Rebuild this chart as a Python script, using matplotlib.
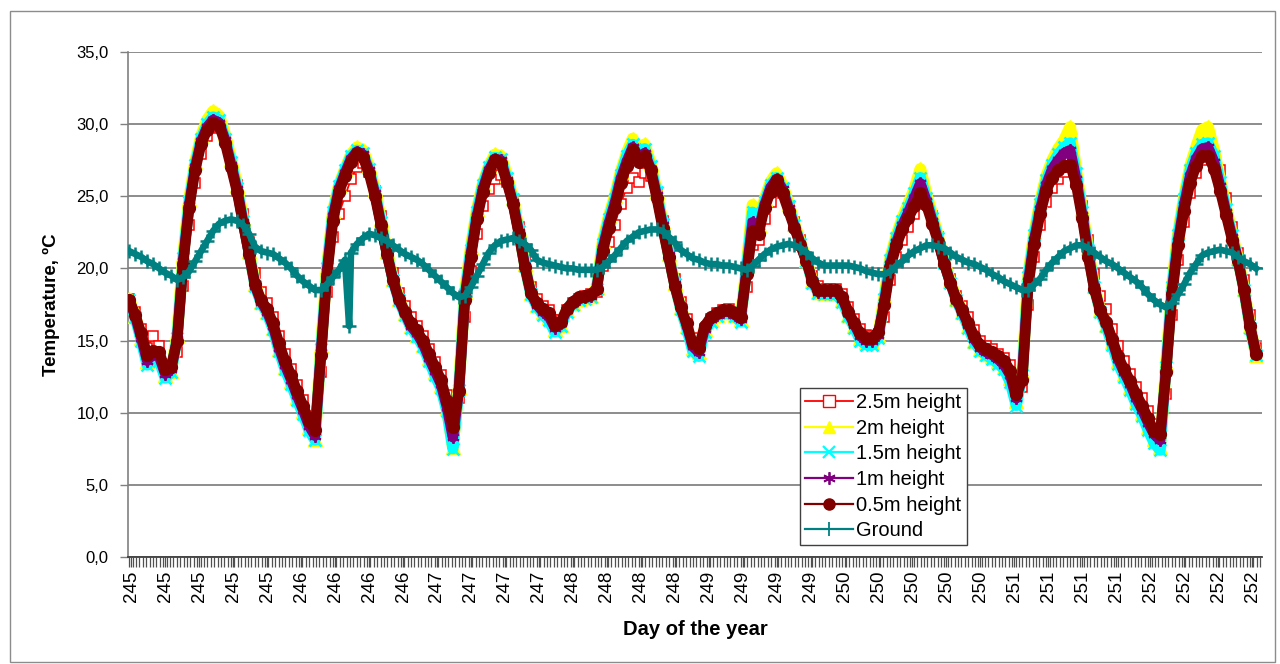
import numpy as np
import matplotlib
matplotlib.use("Agg")
import matplotlib.pyplot as plt
from matplotlib.lines import Line2D
from matplotlib.patches import Rectangle

plt.rcParams['font.family'] = ['Liberation Sans', 'DejaVu Sans']

# ---- data (hourly readings, starting at day 245 00:00) ----
t_05m = [17.8, 16.8, 15.5, 14.0, 14.3, 14.2, 13.0, 13.2, 15.0, 20.3, 24.2, 26.8, 28.6, 29.6, 30.1, 29.9, 28.7, 27.0, 25.3, 23.1, 21.0, 18.9, 17.8, 17.2,
         16.2, 14.8, 13.6, 12.6, 11.5, 10.5, 9.4, 8.8, 14.0, 19.5, 23.3, 25.3, 26.4, 27.4, 28.0, 27.7, 26.6, 25.0, 23.0, 21.0, 19.2, 17.9, 17.0, 16.2,
         15.7, 15.0, 14.1, 13.2, 12.3, 10.8, 9.0, 11.5, 17.8, 20.8, 23.4, 25.3, 26.6, 27.5, 27.3, 26.0, 24.5, 22.4, 20.1, 18.3, 17.6, 17.2, 16.9, 16.1,
         16.3, 17.2, 17.7, 18.0, 18.1, 18.2, 18.6, 21.2, 22.8, 24.2, 25.9, 27.1, 28.2, 27.4, 27.8, 26.8, 24.9, 22.8, 20.8, 18.8, 17.3, 16.2, 14.8, 14.5,
         16.0, 16.6, 16.9, 17.1, 17.1, 16.9, 16.6, 19.6, 22.6, 22.4, 24.2, 25.3, 26.1, 25.2, 24.0, 22.8, 21.6, 20.5, 19.1, 18.5, 18.5, 18.5, 18.5, 18.0,
         17.0, 16.2, 15.5, 15.2, 15.2, 15.6, 17.5, 20.1, 21.6, 22.7, 23.5, 24.3, 25.2, 24.4, 23.1, 21.8, 20.3, 19.0, 17.9, 17.1, 16.2, 15.3, 14.7, 14.4,
         14.2, 13.9, 13.6, 12.9,
         11.3, 12.3, 18.8, 21.7, 23.8, 25.4, 26.3, 26.8, 27.1, 27.2, 25.8, 23.5, 20.8, 18.6, 17.1, 16.3, 15.1, 13.9, 13.0, 12.2,
         11.3, 10.5, 9.6, 8.7, 8.5, 12.8, 18.2, 21.6, 24.0, 25.9, 27.1, 27.8, 27.8, 26.9, 25.4, 23.7, 22.0, 20.5, 18.5, 16.0, 14.1]

t_1m = [17.8, 16.7, 15.2, 13.6, 14.1, 13.9, 12.7, 13.0, 15.1, 20.5, 24.4, 27.0, 28.8, 29.8, 30.3, 30.1, 28.9, 27.2, 25.5, 23.2, 21.0, 18.8, 17.7, 17.0,
        16.0, 14.5, 13.3, 12.3, 11.2, 10.2, 9.1, 8.4, 14.2, 19.8, 23.6, 25.5, 26.6, 27.6, 28.1, 27.9, 26.8, 25.2, 23.1, 21.0, 19.2, 17.8, 16.9, 16.0,
        15.5, 14.8, 13.8, 12.9, 12.0, 10.4, 8.3, 11.5, 18.0, 21.0, 23.6, 25.5, 26.8, 27.6, 27.5, 26.1, 24.6, 22.5, 20.2, 18.3, 17.5, 17.0, 16.7, 15.9,
        16.2, 17.1, 17.6, 17.9, 18.0, 18.1, 18.6, 21.4, 23.1, 24.5, 26.2, 27.4, 28.4, 27.6, 28.0, 26.9, 25.1, 23.0, 20.9, 18.9, 17.3, 16.1, 14.6, 14.2,
        15.8, 16.5, 16.8, 17.0, 17.0, 16.8, 16.5, 19.8, 23.2, 22.6, 24.4, 25.6, 26.2, 25.5, 24.2, 22.9, 21.7, 20.5, 19.1, 18.4, 18.4, 18.4, 18.4, 17.9,
        16.9, 16.1, 15.3, 15.0, 15.0, 15.4, 17.7, 20.3, 21.8, 23.0, 23.9, 24.9, 25.9, 24.7, 23.3, 21.9, 20.3, 19.0, 17.8, 17.0, 16.1, 15.1, 14.5, 14.2,
        14.0, 13.7, 13.3, 12.6,
        11.0, 12.5, 19.1, 22.0, 24.1, 25.8, 26.9, 27.5, 28.0, 28.2, 26.2, 23.7, 21.1, 18.7, 17.1, 16.2, 15.0, 13.7, 12.8, 12.0,
        11.0, 10.2, 9.3, 8.5, 8.1, 13.0, 18.5, 21.9, 24.4, 26.4, 27.6, 28.3, 28.4, 27.4, 25.7, 23.9, 22.2, 20.6, 18.5, 16.0, 14.1]

t_15m = [17.8, 16.6, 15.0, 13.3, 13.9, 13.6, 12.4, 12.8, 15.2, 20.7, 24.6, 27.2, 29.0, 30.0, 30.5, 30.3, 29.0, 27.4, 25.6, 23.3, 21.1, 18.8, 17.6, 16.9,
         15.8, 14.3, 13.0, 12.0, 10.9, 9.9, 8.8, 8.1, 14.4, 20.0, 23.9, 25.7, 26.8, 27.8, 28.2, 28.0, 26.9, 25.3, 23.2, 21.1, 19.2, 17.8, 16.8, 15.9,
         15.3, 14.6, 13.6, 12.6, 11.7, 10.1, 7.5, 11.6, 18.2, 21.3, 23.9, 25.8, 27.0, 27.7, 27.6, 26.3, 24.8, 22.6, 20.2, 18.2, 17.4, 16.8, 16.4, 15.6,
         16.0, 17.0, 17.5, 17.8, 17.9, 18.0, 18.6, 21.7, 23.4, 24.8, 26.5, 27.8, 28.6, 27.9, 28.3, 27.1, 25.3, 23.1, 20.9, 18.9, 17.2, 15.9, 14.3, 13.9,
         15.6, 16.3, 16.7, 16.9, 16.9, 16.7, 16.3, 20.0, 23.9, 22.8, 24.6, 25.8, 26.3, 25.6, 24.3, 23.0, 21.7, 20.5, 19.0, 18.3, 18.2, 18.2, 18.2, 17.7,
         16.7, 15.9, 15.0, 14.7, 14.7, 15.2, 17.9, 20.6, 22.1, 23.3, 24.2, 25.2, 26.3, 24.9, 23.5, 22.1, 20.4, 19.0, 17.8, 16.9, 15.9, 14.9, 14.3, 14.0,
         13.7, 13.4, 13.0, 12.1,
         10.5, 12.6, 19.4, 22.3, 24.5, 26.1, 27.2, 27.9, 28.4, 28.7, 26.6, 23.9, 21.3, 18.7, 17.0, 16.0, 14.7, 13.4, 12.5, 11.6,
         10.6, 9.8, 8.8, 7.9, 7.4, 13.2, 18.7, 22.3, 24.8, 26.8, 28.0, 28.6, 28.7, 27.8, 26.0, 24.1, 22.3, 20.6, 18.5, 15.9, 14.0]

t_2m = [17.9, 16.7, 15.2, 13.6, 14.1, 13.9, 12.6, 12.9, 15.4, 20.9, 24.8, 27.4, 29.2, 30.3, 30.9, 30.6, 29.3, 27.6, 25.8, 23.5, 21.2, 18.9, 17.7, 17.0,
        15.9, 14.4, 13.2, 12.2, 11.1, 10.1, 9.0, 8.2, 14.6, 20.1, 24.0, 25.8, 26.9, 27.9, 28.4, 28.2, 27.1, 25.5, 23.4, 21.2, 19.3, 17.9, 16.9, 16.0,
        15.4, 14.7, 13.8, 12.8, 11.9, 10.3, 7.6, 11.8, 18.4, 21.5, 24.1, 25.9, 27.1, 27.9, 27.8, 26.5, 24.9, 22.7, 20.3, 18.3, 17.5, 17.0, 16.6, 15.8,
        16.1, 17.1, 17.6, 17.9, 18.0, 18.1, 18.7, 21.9, 23.6, 25.0, 26.7, 28.0, 29.0, 28.3, 28.6, 27.3, 25.4, 23.2, 21.0, 19.0, 17.3, 16.0, 14.5, 14.2,
        15.8, 16.5, 16.8, 17.0, 17.0, 16.8, 16.5, 20.2, 24.4, 23.0, 24.8, 26.0, 26.6, 25.8, 24.5, 23.1, 21.8, 20.6, 19.1, 18.4, 18.3, 18.3, 18.3, 17.8,
        16.8, 16.0, 15.2, 14.9, 14.9, 15.4, 18.1, 20.8, 22.3, 23.5, 24.5, 25.5, 26.9, 25.2, 23.7, 22.2, 20.5, 19.1, 17.9, 17.0, 16.0, 15.0, 14.4, 14.1,
        13.9, 13.6, 13.2, 12.4,
        10.8, 12.8, 19.6, 22.5, 24.7, 26.4, 27.5, 28.3, 28.9, 29.8, 26.8, 24.1, 21.4, 18.8, 17.1, 16.1, 14.9, 13.6, 12.7, 11.8,
        10.8, 10.0, 9.0, 8.2, 7.6, 13.4, 18.9, 22.5, 25.0, 27.1, 28.4, 29.6, 29.8, 28.2, 26.2, 24.3, 22.4, 20.7, 18.6, 16.0, 14.0]

t_25m = [17.9, 17.0, 15.8, 14.5, 15.3, 14.6, 13.4, 13.3, 14.2, 18.8, 23.0, 25.9, 27.9, 29.2, 29.7, 29.8, 28.9, 27.4, 25.8, 23.8, 21.8, 19.7, 18.4, 17.6,
         16.6, 15.3, 14.1, 13.0, 11.9, 10.9, 9.8, 9.2, 12.8, 18.4, 22.2, 23.8, 25.0, 26.2, 27.0, 27.3, 26.7, 25.4, 23.6, 21.6, 19.7, 18.3, 17.4, 16.6,
         16.0, 15.3, 14.4, 13.5, 12.6, 11.2, 9.5, 11.0, 16.6, 19.8, 22.4, 24.3, 25.5, 26.2, 26.5, 26.0, 24.8, 22.9, 20.6, 18.7, 17.9, 17.4, 17.1, 16.4,
         16.4, 17.1, 17.6, 17.9, 18.1, 18.2, 18.4, 20.2, 21.8, 23.0, 24.5, 25.6, 26.3, 26.0, 26.6, 26.4, 25.2, 23.3, 21.3, 19.3, 17.7, 16.5, 15.2, 14.7,
         15.8, 16.5, 16.9, 17.1, 17.2, 17.0, 16.8, 18.7, 21.6, 22.0, 23.4, 24.6, 25.4, 25.2, 24.3, 23.2, 22.0, 20.8, 19.5, 18.8, 18.6, 18.6, 18.6, 18.2,
         17.3, 16.5, 15.8, 15.4, 15.3, 15.3, 16.6, 19.2, 20.8, 22.0, 22.9, 23.8, 24.6, 24.5, 23.6, 22.2, 20.7, 19.3, 18.1, 17.4, 16.6, 15.7, 15.0, 14.6,
         14.4, 14.1, 13.8, 13.3,
         11.9, 11.8, 17.5, 20.8, 23.0, 24.6, 25.6, 26.2, 26.7, 27.0, 26.0, 24.3, 22.0, 19.6, 18.1, 17.2, 15.8, 14.6, 13.6, 12.7,
         11.8, 11.0, 10.1, 9.2, 8.7, 11.3, 16.8, 20.6, 23.2, 25.2, 26.6, 27.5, 27.9, 27.8, 26.8, 24.9, 22.9, 21.1, 19.2, 16.8, 14.5]

t_ground = [21.2, 21.0, 20.8, 20.5, 20.3, 20.0, 19.7, 19.5, 19.2, 19.4, 19.8, 20.5, 21.2, 21.9, 22.6, 23.1, 23.3, 23.4, 23.3, 23.0, 22.4, 21.5, 21.2, 21.1,
            21.0, 20.7, 20.4, 20.0, 19.5, 19.1, 18.8, 18.5, 18.5, 18.9, 19.4, 19.9, 20.6, 21.1, 21.7, 22.1, 22.4, 22.3, 22.1, 21.9, 21.6, 21.3, 21.0, 20.8,
            20.6, 20.3, 19.9, 19.5, 19.1, 18.7, 18.3, 18.0, 18.1, 18.7, 19.5, 20.3, 21.1, 21.6, 21.9, 22.0, 22.1, 21.9, 21.7, 21.3, 20.6, 20.4, 20.3, 20.2,
            20.1, 20.0, 20.0, 19.9, 19.9, 19.9, 19.9, 20.1, 20.5, 20.9, 21.4, 21.9, 22.2, 22.5, 22.6, 22.7, 22.7, 22.6, 22.2, 21.8, 21.3, 21.0, 20.7, 20.6,
            20.4, 20.3, 20.3, 20.2, 20.2, 20.1, 20.0, 19.9, 20.2, 20.6, 21.0, 21.3, 21.5, 21.6, 21.7, 21.6, 21.4, 21.1, 20.7, 20.4, 20.2, 20.2, 20.2, 20.2,
            20.2, 20.1, 20.0, 19.8, 19.7, 19.6, 19.6, 19.8, 20.2, 20.5, 20.9, 21.2, 21.4, 21.6, 21.6, 21.5, 21.4, 21.1, 20.8, 20.6, 20.4, 20.3, 20.1, 19.9,
            19.6, 19.4, 19.1, 18.9, 18.7, 18.5, 18.5, 18.9, 19.3, 19.9, 20.4, 20.8, 21.2, 21.4, 21.6, 21.6, 21.4, 21.1, 20.8, 20.5, 20.3, 20.0, 19.7, 19.4,
            19.1, 18.7, 18.2, 17.8, 17.5, 17.3, 17.6, 18.2, 18.9, 19.7, 20.3, 20.9, 21.1, 21.2, 21.3, 21.2, 21.1, 20.8, 20.5, 20.3, 20.0]

ground_spike_hour = 36.7
ground_spike_value = 16.0

day_labels = ['245'] * 5 + ['246'] * 4 + ['247'] * 4 + ['248'] * 4 + ['249'] * 4 + \
             ['250'] * 5 + ['251'] * 4 + ['252'] * 4
y_ticks = [0, 5, 10, 15, 20, 25, 30, 35]
y_tick_labels = ['0,0', '5,0', '10,0', '15,0', '20,0', '25,0', '30,0', '35,0']

series_names = ['2.5m height', '2m height', '1.5m height', '1m height', '0.5m height', 'Ground']

# ---- figure ----
W, H = 1280, 664
fig = plt.figure(figsize=(W / 100, H / 100), dpi=100)
fig.patches.append(Rectangle((10 / W, 2 / H), 1265 / W, 651 / H, transform=fig.transFigure,
                             fill=False, edgecolor='#8c8c8c', lw=1.0))
ax = fig.add_axes([128 / W, 107 / H, 1134 / W, 505 / H])

hours = np.arange(len(t_05m))
g_hours = np.insert(hours.astype(float), 37, ground_spike_hour)
g_vals = np.insert(np.array(t_ground, dtype=float), 37, ground_spike_value)

# 2.5 m (bottom)
ax.plot(hours, t_25m, color='#FF0000', lw=1.3, marker='s', ms=7, mfc='white',
        mec='#FF0000', mew=1.1, zorder=2)
# 2 m
ax.plot(hours, t_2m, color='#FFFF00', lw=8.5, solid_capstyle='round', solid_joinstyle='round',
        marker='^', ms=9.5, mfc='#FFFF00', mec='#FFFF00', zorder=3)
# 1.5 m
ax.plot(hours, t_15m, color='#00FFFF', lw=8.0, solid_capstyle='round', solid_joinstyle='round',
        marker='x', ms=8.5, mec='#00FFFF', mew=1.8, zorder=4)
# 1 m
ax.plot(hours, t_1m, color='#800080', lw=7.5, solid_capstyle='round', solid_joinstyle='round',
        marker=(6, 2, 0), ms=9, mec='#800080', mew=1.4, zorder=5)
# 0.5 m
ax.plot(hours, t_05m, color='#800000', lw=7.5, solid_capstyle='round', solid_joinstyle='round',
        marker='o', ms=8.5, mfc='#800000', mec='#800000', zorder=6)
# Ground (top)
ax.plot(g_hours, g_vals, color='#008080', lw=4.8, solid_joinstyle='round',
        marker='+', ms=10, mew=1.8, mec='#008080', zorder=7)

ax.set_xlim(-0.2, 189)
ax.set_ylim(0, 35)

ax.set_yticks(y_ticks)
ax.set_yticklabels(y_tick_labels, fontsize=12)
label_pos = 0.35 + np.arange(len(day_labels)) * (34 / 6)
ax.set_xticks(label_pos)
ax.set_xticklabels(day_labels, rotation=90, fontsize=13.5)
ax.set_xticks(np.arange(0, 189.01, 34 / 6 / 10), minor=True)
ax.tick_params(axis='x', which='both', direction='out', length=7, width=0.9,
               color='#505050', pad=3)
ax.tick_params(axis='y', direction='out', length=6, width=1.0, color='#808080', pad=8)

ax.yaxis.grid(True, color='#8c8c8c', lw=1.4)
ax.set_axisbelow(True)
for s in ['top', 'right']:
    ax.spines[s].set_visible(False)
ax.spines['left'].set_color('#808080')
ax.spines['left'].set_linewidth(1.2)
ax.spines['bottom'].set_color('#404040')
ax.spines['bottom'].set_linewidth(1.3)

ax.set_ylabel('Temperature, ºC', fontsize=13.5, fontweight='bold', labelpad=12)
ax.set_xlabel('Day of the year', fontsize=14.5, fontweight='bold', labelpad=13)

handles = [
    Line2D([], [], color='#FF0000', lw=1.3, marker='s', ms=8, mfc='white', mec='#FF0000'),
    Line2D([], [], color='#FFFF00', lw=1.6, marker='^', ms=9, mfc='#FFFF00', mec='#FFFF00'),
    Line2D([], [], color='#00FFFF', lw=1.6, marker='x', ms=8, mec='#00FFFF', mew=1.6),
    Line2D([], [], color='#800080', lw=1.6, marker=(6, 2, 0), ms=9, mec='#800080', mew=1.3),
    Line2D([], [], color='#800000', lw=1.6, marker='o', ms=8, mfc='#800000', mec='#800000'),
    Line2D([], [], color='#008080', lw=1.6, marker='+', ms=10, mec='#008080', mew=1.3),
]
leg = ax.legend(handles, series_names, loc='upper left', bbox_to_anchor=(0.5926, 0.3347),
                borderaxespad=0, fontsize=14.5, frameon=True, fancybox=False, shadow=False,
                handlelength=2.4, handletextpad=0.15, borderpad=0.25, labelspacing=0.33,
                framealpha=1)
leg.get_frame().set_edgecolor('#404040')
leg.get_frame().set_linewidth(1.0)
leg.set_zorder(10)

fig.savefig('out.png', dpi=100)
